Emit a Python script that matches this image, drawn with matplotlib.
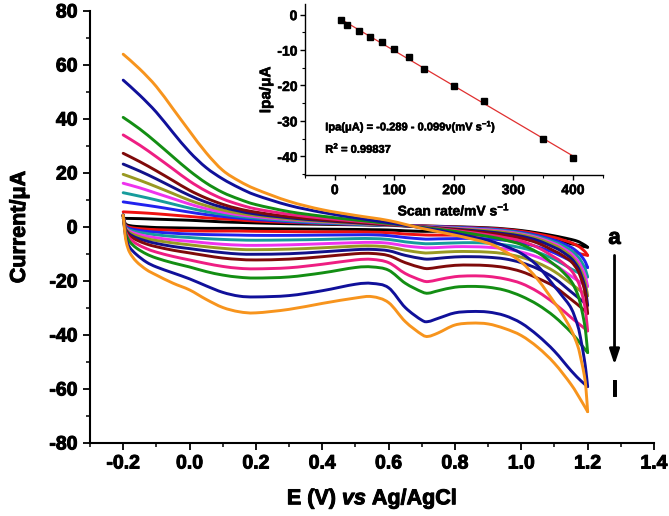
import numpy as np
import matplotlib
matplotlib.use('Agg')
import matplotlib.pyplot as plt
import matplotlib.patheffects as pe
from matplotlib.path import Path
from matplotlib.patches import PathPatch
from matplotlib.ticker import MultipleLocator, FormatStrFormatter

plt.rcParams['font.family'] = ['Liberation Sans', 'DejaVu Sans']
plt.rcParams['font.weight'] = 'bold'
plt.rcParams['axes.unicode_minus'] = False
plt.rcParams['mathtext.fontset'] = 'custom'
plt.rcParams['mathtext.rm'] = 'Liberation Sans:bold'
plt.rcParams['mathtext.bf'] = 'Liberation Sans:bold'
plt.rcParams['mathtext.it'] = 'Liberation Sans:italic:bold'

# potential grids (V vs Ag/AgCl)
e_fwd = [-0.2, -0.195, -0.19, -0.18, -0.16, -0.13, -0.1, -0.05, 0.0, 0.05, 0.1, 0.15,
         0.2, 0.3, 0.4, 0.5, 0.55, 0.6, 0.65, 0.7, 0.72, 0.75, 0.8, 0.85, 0.9, 0.95,
         1.0, 1.05, 1.1, 1.15, 1.18, 1.2]
e_rev = [1.2, 1.195, 1.19, 1.18, 1.17, 1.15, 1.12, 1.1, 1.05, 1.0, 0.95, 0.9, 0.8,
         0.7, 0.6, 0.5, 0.4, 0.3, 0.2, 0.15, 0.1, 0.05, 0.0, -0.05, -0.1, -0.15, -0.2]

labels = ['a', 'b', 'c', 'd', 'e', 'f', 'g', 'h', 'i', 'j', 'k', 'l']
colors = ['#000000', '#EE1111', '#2222EE', '#169C9C', '#EE33EE', '#999922',
          '#11118A', '#7F0A0A', '#EE1E82', '#138E13', '#10109A', '#F7941D']

# forward sweep currents (uA)
i_fwd = {
    'a': [4.4, 1.6, 0.9, 0.5, 0.2, 0.0, -0.2, -0.3, -0.4, -0.5, -0.5, -0.5, -0.6, -0.7, -0.8, -0.9,
          -1.0, -1.1, -1.4, -1.6, -1.6, -1.6, -1.6, -1.6, -1.8, -2.1, -2.7, -3.5, -4.7, -6.2, -7.0, -7.5],
    'b': [4.4, 1.2, 0.4, -0.1, -0.5, -0.8, -1.0, -1.2, -1.4, -1.5, -1.5, -1.5, -1.6, -1.7, -1.8, -1.8,
          -1.9, -2.1, -2.6, -2.9, -3.0, -3.0, -3.0, -3.0, -3.2, -3.6, -4.3, -5.4, -7.0, -9.0, -10.0, -10.5],
    'c': [4.4, 0.9, 0.0, -0.6, -1.1, -1.6, -1.9, -2.3, -2.6, -2.8, -2.9, -3.0, -3.1, -3.1, -3.0, -2.9,
          -2.9, -3.2, -3.9, -4.4, -4.5, -4.4, -4.3, -4.2, -4.4, -4.9, -5.9, -7.4, -9.6, -12.6, -14.2, -15.0],
    'd': [4.4, 0.6, -0.4, -1.1, -1.8, -2.4, -2.9, -3.5, -3.9, -4.3, -4.6, -4.8, -4.9, -4.8, -4.6, -4.3,
          -4.3, -4.6, -5.5, -6.1, -6.2, -6.1, -5.9, -5.8, -6.0, -6.6, -7.7, -9.4, -12.0, -15.5, -17.4, -18.5],
    'e': [4.4, 0.4, -0.7, -1.6, -2.5, -3.4, -4.0, -4.8, -5.3, -5.9, -6.4, -6.7, -6.8, -6.6, -6.2, -5.8,
          -5.7, -6.0, -7.0, -7.6, -7.7, -7.6, -7.3, -7.3, -7.5, -8.1, -9.3, -11.2, -14.0, -18.2, -20.6, -22.0],
    'f': [4.4, 0.2, -1.0, -2.1, -3.2, -4.3, -5.0, -5.9, -6.6, -7.3, -7.9, -8.3, -8.4, -8.2, -7.7, -7.1,
          -7.0, -7.4, -8.6, -9.5, -9.6, -9.4, -9.1, -9.1, -9.3, -9.9, -11.2, -13.3, -16.5, -21.0, -23.8, -25.5],
    'g': [4.4, 0.0, -1.4, -2.7, -4.0, -5.2, -6.1, -7.2, -8.0, -8.8, -9.5, -10.0, -10.1, -9.9, -9.2, -8.4,
          -8.3, -8.8, -10.5, -11.7, -11.9, -11.6, -11.1, -11.0, -11.2, -11.8, -13.2, -15.5, -19.0, -24.0, -27.0, -29.0],
    'h': [4.4, -0.2, -1.8, -3.3, -4.8, -6.3, -7.3, -8.6, -9.6, -10.6, -11.5, -12.0, -12.2, -11.9, -11.0, -9.9,
          -9.8, -10.6, -13.2, -15.1, -15.4, -14.9, -14.2, -14.1, -14.3, -15.0, -16.5, -19.0, -22.1, -26.8, -29.8, -32.0],
    'i': [4.4, -0.5, -2.5, -4.3, -6.2, -8.0, -9.3, -10.9, -12.2, -13.5, -14.6, -15.3, -15.5, -15.1, -13.8, -12.2,
          -12.0, -13.2, -17.2, -19.8, -20.2, -19.5, -18.4, -18.1, -18.3, -19.2, -20.9, -24.0, -28.3, -33.5, -36.5, -38.5],
    'j': [4.4, -0.8, -3.2, -5.5, -7.8, -10.0, -11.5, -13.3, -14.8, -16.5, -17.8, -18.6, -18.9, -18.5, -17.0, -15.0,
          -14.8, -16.0, -20.8, -24.0, -24.5, -23.6, -22.3, -22.0, -22.3, -23.4, -25.6, -28.8, -33.2, -39.0, -43.5, -46.5],
    'k': [4.4, -1.5, -4.8, -7.6, -10.2, -13.0, -14.8, -17.0, -19.2, -21.8, -24.2, -25.6, -25.9, -25.4, -23.6, -21.2,
          -20.9, -22.5, -29.8, -34.5, -35.0, -33.8, -31.8, -31.3, -31.5, -32.8, -35.6, -40.2, -46.0, -53.2, -57.0, -59.1],
    'l': [4.4, -2.0, -6.0, -9.5, -12.8, -15.8, -17.8, -20.8, -23.3, -26.8, -29.8, -31.4, -31.8, -30.5, -28.3, -26.3,
          -25.8, -28.0, -35.0, -39.8, -40.5, -39.2, -36.3, -35.6, -35.9, -37.6, -40.2, -44.6, -50.5, -58.3, -64.2, -68.4],
}

# reverse sweep currents (uA)
i_rev = {
    'a': [-7.5, -7.0, -6.6, -5.9, -5.3, -4.6, -3.8, -3.3, -2.2, -1.3, -0.7, -0.3, 0.1, 0.4, 0.6, 0.8,
          1.0, 1.2, 1.5, 1.7, 1.9, 2.2, 2.5, 2.7, 2.9, 3.1, 3.2],
    'b': [-10.5, -9.6, -8.9, -7.8, -7.0, -5.8, -4.6, -3.9, -2.6, -1.6, -0.9, -0.5, 0.0, 0.4, 0.7, 1.0,
          1.3, 1.7, 2.2, 2.6, 3.0, 3.4, 3.9, 4.4, 4.9, 5.3, 5.6],
    'c': [-15.0, -13.5, -12.3, -10.6, -9.3, -7.5, -5.8, -4.9, -3.2, -2.0, -1.2, -0.7, -0.1, 0.3, 0.6, 1.0,
          1.4, 2.0, 2.8, 3.3, 3.9, 4.6, 5.5, 6.5, 7.5, 8.4, 9.3],
    'd': [-18.5, -16.4, -14.8, -12.6, -10.9, -8.7, -6.6, -5.6, -3.6, -2.3, -1.4, -0.9, -0.3, 0.2, 0.6, 1.1,
          1.6, 2.3, 3.3, 3.9, 4.7, 5.7, 7.0, 8.5, 10.0, 11.4, 12.7],
    'e': [-22.0, -19.2, -17.2, -14.5, -12.5, -9.8, -7.4, -6.2, -4.0, -2.6, -1.7, -1.1, -0.4, 0.2, 0.7, 1.3,
          1.9, 2.7, 3.8, 4.5, 5.5, 6.8, 8.5, 10.5, 12.5, 14.5, 16.2],
    'f': [-25.5, -22.0, -19.5, -16.3, -13.9, -10.8, -8.1, -6.8, -4.4, -2.9, -2.0, -1.4, -0.6, 0.1, 0.7, 1.4,
          2.1, 3.0, 4.3, 5.1, 6.3, 7.9, 9.9, 12.4, 14.9, 17.3, 19.5],
    'g': [-29.0, -24.5, -21.3, -17.6, -14.8, -11.6, -8.9, -7.6, -5.0, -3.4, -2.5, -1.8, -0.8, 0.1, 0.8, 1.6,
          2.4, 3.4, 4.8, 5.9, 7.3, 9.2, 11.7, 14.7, 17.8, 20.7, 23.3],
    'h': [-32.0, -26.5, -23.0, -19.0, -16.0, -12.8, -10.2, -8.9, -6.0, -4.1, -3.0, -2.2, -1.0, 0.0, 0.9, 1.8,
          2.7, 3.8, 5.5, 6.7, 8.4, 10.7, 13.6, 17.2, 20.8, 24.2, 27.3],
    'i': [-38.5, -32.5, -28.5, -23.5, -20.0, -16.0, -12.8, -11.2, -7.6, -5.2, -3.9, -2.9, -1.3, 0.0, 1.1, 2.2,
          3.3, 4.7, 6.7, 8.3, 10.4, 13.3, 17.0, 21.5, 26.0, 30.3, 34.1],
    'j': [-46.5, -40.0, -35.5, -29.5, -25.0, -20.0, -16.0, -14.0, -9.5, -6.5, -4.8, -3.5, -1.6, -0.1, 1.3, 2.6,
          4.0, 5.7, 8.3, 10.3, 12.8, 16.3, 20.8, 26.0, 31.3, 36.3, 40.6],
    'k': [-59.1, -53.5, -49.0, -42.0, -36.5, -30.0, -25.0, -22.0, -14.5, -9.8, -7.0, -5.0, -2.3, -0.3, 1.6, 3.4,
          5.4, 8.0, 11.8, 14.5, 17.8, 22.0, 27.8, 35.0, 42.5, 48.8, 54.4],
    'l': [-68.4, -60.0, -55.0, -49.0, -44.0, -38.0, -31.5, -28.0, -19.5, -13.0, -9.0, -6.0, -3.0, -0.5, 2.4, 4.3,
          6.4, 9.5, 14.0, 17.0, 21.0, 27.5, 35.5, 43.8, 52.0, 58.5, 64.0],
}

# inset: anodic peak current vs scan rate
scan_rate = [10, 20, 40, 60, 80, 100, 125, 150, 200, 250, 350, 400]
ipa = [-1.6, -3.0, -4.7, -6.3, -7.7, -9.6, -11.9, -15.4, -20.2, -24.5, -35.0, -40.6]
fit_intercept = -0.289
fit_slope = -0.099


def smooth_path(x, y):
    # Bezier path through the read points (Catmull-Rom style handles)
    p = np.column_stack([x, y]).astype(float)
    ext = np.vstack([p[0], p, p[-1]])
    verts = [p[0]]
    codes = [Path.MOVETO]
    for k in range(len(p) - 1):
        p0, p1, p2, p3 = ext[k], ext[k + 1], ext[k + 2], ext[k + 3]
        verts += [p1 + (p2 - p0) / 6.0, p2 - (p3 - p1) / 6.0, p2]
        codes += [Path.CURVE4] * 3
    return Path(verts, codes)


heavy = [pe.withStroke(linewidth=0.7, foreground='black')]
heavy_s = [pe.withStroke(linewidth=0.4, foreground='black')]

fig = plt.figure(figsize=(6.69, 5.16), dpi=100)
ax = fig.add_axes([90 / 669, 1 - 443 / 516, 564 / 669, 432 / 516])

for lab, col in zip(labels, colors):
    for xs, ys in ((e_fwd, i_fwd[lab]), (e_rev, i_rev[lab])):
        ax.add_patch(PathPatch(smooth_path(xs, ys), facecolor='none', edgecolor=col,
                               lw=2.1, joinstyle='round', capstyle='round'))

ax.set_xlim(-0.3, 1.4)
ax.set_ylim(-80, 80)
ax.xaxis.set_major_locator(MultipleLocator(0.2))
ax.xaxis.set_minor_locator(MultipleLocator(0.1))
ax.xaxis.set_major_formatter(FormatStrFormatter('%.1f'))
ax.yaxis.set_major_locator(MultipleLocator(20))
ax.yaxis.set_minor_locator(MultipleLocator(10))
ax.spines['top'].set_visible(False)
ax.spines['right'].set_visible(False)
for s in ['left', 'bottom']:
    ax.spines[s].set_linewidth(1.5)
ax.tick_params(which='major', direction='out', length=5, width=1.3, labelsize=14, pad=4)
ax.tick_params(which='minor', direction='out', length=3, width=1.1)
for t in ax.get_xticklabels() + ax.get_yticklabels():
    t.set_path_effects(heavy)
ax.set_xlabel('E (V) $\\it{vs}$ Ag/AgCl', fontsize=15.5, fontweight='bold', labelpad=10,
              path_effects=heavy)
ax.set_ylabel('Current/\u03bcA', fontsize=15.5, fontweight='bold', labelpad=14,
              path_effects=heavy)

# scan-rate arrow a -> l
ax.annotate('', xy=(1.281, -52), xytext=(1.281, -9.5),
            arrowprops=dict(arrowstyle='-|>,head_length=0.9,head_width=0.3', color='black', lw=2))
ax.text(1.281, -4.2, 'a', fontsize=16, fontweight='bold', ha='center', va='center',
        path_effects=heavy)
ax.text(1.281, -60.5, 'l', fontsize=16, fontweight='bold', ha='center', va='center',
        path_effects=heavy)

# inset
ins = fig.add_axes([305 / 669, 1 - 175.5 / 516, 297.7 / 669, 171.5 / 516])
ins.patch.set_alpha(0)
ins.plot(scan_rate, ipa, 's', color='black', ms=4.3, zorder=3)
fit_x = np.array([min(scan_rate), max(scan_rate)])
ins.plot(fit_x, fit_intercept + fit_slope * fit_x, color='#E03030', lw=0.9, zorder=2)
ins.set_xlim(-50, 450)
ins.set_ylim(-45.4, 3)
ins.xaxis.set_major_locator(MultipleLocator(100))
ins.xaxis.set_minor_locator(MultipleLocator(50))
ins.yaxis.set_major_locator(MultipleLocator(10))
ins.yaxis.set_minor_locator(MultipleLocator(5))
ins.spines['top'].set_visible(False)
ins.spines['right'].set_visible(False)
for s in ['left', 'bottom']:
    ins.spines[s].set_linewidth(1.0)
ins.tick_params(which='major', direction='out', length=3.5, width=1.0, labelsize=10, pad=2)
ins.tick_params(which='minor', direction='out', length=2, width=0.8)
for t in ins.get_xticklabels() + ins.get_yticklabels():
    t.set_path_effects(heavy_s)
ins.set_xlabel('Scan rate/mV s$^{-1}$', fontsize=10, fontweight='bold', labelpad=2,
               path_effects=heavy_s)
ins.set_ylabel('Ipa/\u03bcA', fontsize=11, fontweight='bold', labelpad=3, path_effects=heavy_s)
ins.text(-16, -31.6, 'Ipa(\u03bcA) = -0.289 - 0.099\u03bd(mV s$^{-1}$)', fontsize=8,
         fontweight='bold', va='center', ha='left', path_effects=heavy_s)
ins.text(-16, -37.6, 'R$^{2}$ = 0.99837', fontsize=8, fontweight='bold', va='center', ha='left',
         path_effects=heavy_s)

fig.savefig('out.png', dpi=100)
